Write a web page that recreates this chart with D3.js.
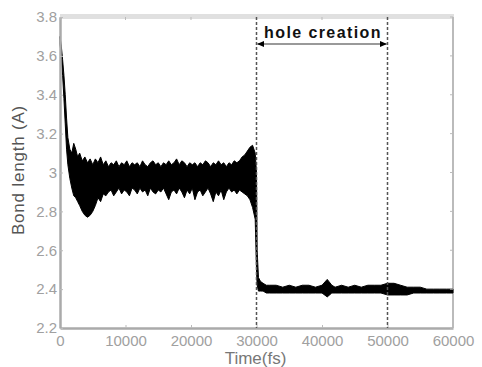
<!DOCTYPE html>
<html><head><meta charset="utf-8">
<script src="https://cdn.jsdelivr.net/npm/d3@7"></script>
<style>body{margin:0;background:#fff}svg{display:block}</style>
</head><body>
<svg id="c" width="482" height="367"></svg>
<script>
// Time (fs) and upper / lower envelope of the bond-length trace (Å)
const time = [0,200,400,600,800,1000,1200,1500,1800,2100,2400,2700,3000,3400,3800,4200,4600,5000,5400,5800,6200,6600,7000,7400,7800,8200,8600,9000,9400,9800,10200,10600,11000,11400,11800,12200,12600,13000,13400,13800,14200,14600,15000,15400,15800,16200,16600,17000,17400,17800,18200,18600,19000,19400,19800,20200,20600,21000,21400,21800,22200,22600,23000,23400,23800,24200,24600,25000,25400,25800,26200,26600,27000,27400,27800,28200,28600,29000,29400,29800,30000,30100,30300,30600,31000,31500,32000,33000,34000,35000,36000,37000,38000,39000,40000,40800,41500,42000,43000,44000,45000,46000,47000,48000,49000,50000,51000,52000,53000,54000,55000,56000,57000,58000,59000,60000];
const upper = [3.70,3.65,3.58,3.50,3.40,3.28,3.18,3.12,3.10,3.15,3.12,3.08,3.10,3.06,3.08,3.05,3.07,3.04,3.07,3.05,3.08,3.04,3.06,3.03,3.05,3.04,3.06,3.03,3.05,3.04,3.06,3.03,3.05,3.04,3.05,3.03,3.06,3.04,3.03,3.05,3.06,3.04,3.05,3.03,3.05,3.04,3.06,3.04,3.05,3.07,3.04,3.06,3.05,3.03,3.05,3.04,3.05,3.03,3.05,3.04,3.06,3.05,3.03,3.05,3.04,3.06,3.04,3.05,3.03,3.05,3.04,3.06,3.05,3.06,3.08,3.09,3.11,3.13,3.14,3.10,3.00,2.60,2.46,2.44,2.43,2.42,2.42,2.42,2.41,2.42,2.41,2.42,2.42,2.41,2.42,2.45,2.42,2.41,2.42,2.41,2.42,2.41,2.42,2.42,2.42,2.43,2.43,2.42,2.41,2.41,2.41,2.40,2.40,2.40,2.40,2.40];
const lower = [3.66,3.60,3.50,3.38,3.25,3.12,3.04,2.97,2.92,2.88,2.87,2.85,2.83,2.80,2.78,2.77,2.78,2.80,2.83,2.87,2.85,2.89,2.88,2.90,2.91,2.88,2.90,2.92,2.89,2.91,2.90,2.88,2.92,2.91,2.89,2.92,2.90,2.91,2.88,2.92,2.90,2.89,2.91,2.90,2.92,2.89,2.86,2.90,2.91,2.89,2.92,2.90,2.87,2.91,2.89,2.92,2.86,2.90,2.91,2.88,2.90,2.92,2.89,2.85,2.90,2.88,2.91,2.86,2.90,2.92,2.90,2.91,2.89,2.91,2.90,2.89,2.88,2.86,2.82,2.76,2.50,2.42,2.39,2.39,2.39,2.38,2.38,2.38,2.38,2.38,2.38,2.38,2.38,2.38,2.38,2.36,2.38,2.38,2.38,2.38,2.38,2.38,2.38,2.38,2.38,2.37,2.37,2.37,2.37,2.38,2.38,2.38,2.38,2.38,2.38,2.38];
const xTicks = [0,10000,20000,30000,40000,50000,60000];
const yTicks = [2.2,2.4,2.6,2.8,3.0,3.2,3.4,3.6,3.8];
const markers = [30000,50000];
const annotation = "hole creation";

const svg = d3.select("#c");
const L=60,R=453,T=17,B=328;
const x = d3.scaleLinear().domain([0,60000]).range([L,R]);
const y = d3.scaleLinear().domain([2.2,3.8]).range([B,T]);
const font = "'Liberation Sans',Arial,sans-serif";

// frame
svg.append("line").attr("x1",L).attr("x2",R+1).attr("y1",T-0.5).attr("y2",T-0.5).attr("stroke","#e0e0e0").attr("stroke-width",5);
svg.append("line").attr("x1",R).attr("x2",R).attr("y1",T).attr("y2",B).attr("stroke","#bbb").attr("stroke-width",2);

// data envelope
const data = time.map((t,i)=>({t,u:upper[i],l:lower[i]}));
svg.append("path").datum(data)
  .attr("d", d3.area().x(d=>x(d.t)).y0(d=>y(d.l)).y1(d=>y(d.u)))
  .attr("fill","#000").attr("stroke","#000").attr("stroke-width",1).attr("stroke-linejoin","round");

// axes
const xa = svg.append("g").attr("transform",`translate(0,${B})`)
  .call(d3.axisBottom(x).tickValues(xTicks).tickFormat(d3.format("d")).tickSizeInner(-3).tickSizeOuter(0).tickPadding(7));
const ya = svg.append("g").attr("transform",`translate(${L},0)`)
  .call(d3.axisLeft(y).tickValues(yTicks).tickFormat(d=>d===3?"3":d3.format(".1f")(d)).tickSizeInner(-3).tickSizeOuter(0).tickPadding(3));
[xa,ya].forEach(a=>{
  a.select(".domain").attr("stroke","#aaa").attr("stroke-width",2.5);
  a.selectAll(".tick line").attr("stroke","#bbb");
  a.selectAll(".tick text").attr("fill","#a0a0a0").attr("font-family",font).attr("font-size",15);
});
// top/right ticks
svg.append("g").selectAll("line").data(xTicks).join("line")
  .attr("x1",d=>x(d)).attr("x2",d=>x(d)).attr("y1",T).attr("y2",T+3).attr("stroke","#bbb");
svg.append("g").selectAll("line").data(yTicks).join("line")
  .attr("x1",R).attr("x2",R-3).attr("y1",d=>y(d)).attr("y2",d=>y(d)).attr("stroke","#bbb");

// dashed markers
svg.append("g").selectAll("line").data(markers).join("line")
  .attr("x1",d=>x(d)).attr("x2",d=>x(d)).attr("y1",T).attr("y2",B)
  .attr("stroke","#555").attr("stroke-width",1.5).attr("stroke-dasharray","3,2");

// arrow
const defs = svg.append("defs");
defs.append("marker").attr("id","ah").attr("viewBox","0 0 10 10").attr("refX",9).attr("refY",5)
  .attr("markerWidth",5).attr("markerHeight",5).attr("orient","auto-start-reverse")
  .append("path").attr("d","M0,1L10,5L0,9Z").attr("fill","#000");
svg.append("line").attr("x1",x(markers[0])+1).attr("x2",x(markers[1])-1).attr("y1",44).attr("y2",44)
  .attr("stroke","#777").attr("stroke-width",1.5).attr("marker-start","url(#ah)").attr("marker-end","url(#ah)");
svg.append("text").attr("x",(x(markers[0])+x(markers[1]))/2+1).attr("y",38).attr("text-anchor","middle")
  .attr("font-family",font).attr("font-weight","bold").attr("font-size",16).attr("letter-spacing",1.4).attr("fill","#111").text(annotation);

// axis labels
svg.append("text").attr("x",(L+R)/2-1).attr("y",364).attr("text-anchor","middle")
  .attr("font-family",font).attr("font-size",17).attr("fill","#777").text("Time(fs)");
svg.append("text").attr("transform","translate(24,170) rotate(-90)").attr("text-anchor","middle")
  .attr("font-family",font).attr("font-size",17).attr("letter-spacing",0.8).attr("fill","#555").text("Bond length (A)");
</script>
</body></html>
